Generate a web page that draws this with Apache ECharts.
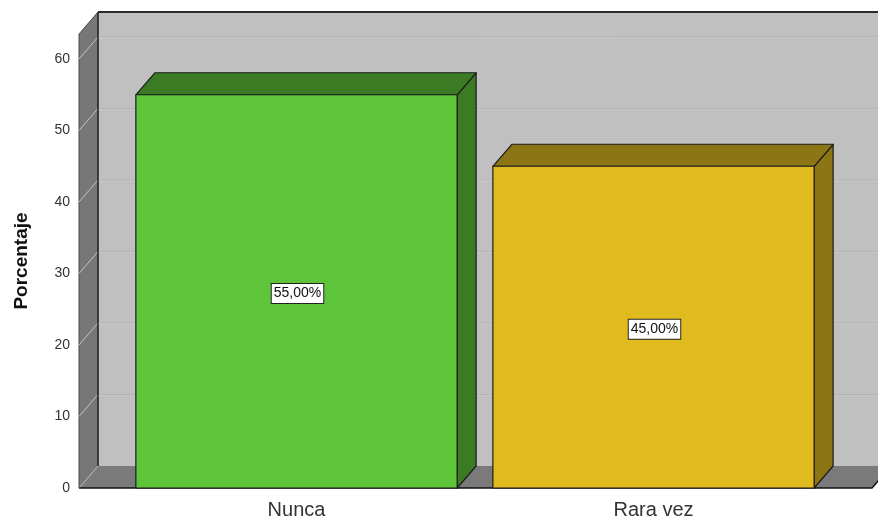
<!DOCTYPE html>
<html>
<head>
<meta charset="utf-8">
<script src="https://cdn.jsdelivr.net/npm/echarts@6/dist/echarts.min.js"></script>
<style>
  html, body { margin: 0; padding: 0; background: #ffffff; }
  #chart { width: 878px; height: 521px; }
</style>
</head>
<body>
<div id="chart"></div>
<script>
// Categories and percentages
var categories = ['Nunca', 'Rara vez'];
var percentages = [55, 45];
var valueLabels = ['55,00%', '45,00%'];
var yTicks = [0, 10, 20, 30, 40, 50, 60];

// Face colours per bar: front, top/side
var frontColors = ['#5ec43a', '#e0bb1e'];
var shadeColors = ['#3a7b23', '#8b7514'];

// 3D depth offset of the plot box (pixels)
var DX = 19, DY = -22;
var FONT = '"Liberation Sans", Arial, sans-serif';

var chart = echarts.init(document.getElementById('chart'), null, { renderer: 'canvas' });

function renderWalls(params, api) {
  var cs = params.coordSys;
  var left = cs.x - 39, right = cs.x + cs.width + 40;
  var top = cs.y, bottom = cs.y + cs.height;
  var children = [];
  // back wall
  children.push({ type: 'rect', shape: { x: left + DX, y: top + DY, width: right - left, height: bottom - top },
    style: { fill: '#c0c0c0', stroke: null } });
  // side wall
  children.push({ type: 'polygon', shape: { points: [[left, top], [left + DX, top + DY], [left + DX, bottom + DY], [left, bottom]] },
    style: { fill: '#777777', stroke: '#4a4a4a', lineWidth: 1 } });
  // floor
  children.push({ type: 'polygon', shape: { points: [[left, bottom], [left + DX, bottom + DY], [right + DX, bottom + DY], [right, bottom]] },
    style: { fill: '#7a7a7a', stroke: null } });
  // grid lines on back wall and side wall
  yTicks.forEach(function (v) {
    var y = api.coord([0, v])[1];
    if (v > 0) {
      children.push({ type: 'line', shape: { x1: left + DX, y1: y + DY, x2: right + DX, y2: y + DY },
        style: { stroke: '#b2b2b2', lineWidth: 1 } });
      children.push({ type: 'line', shape: { x1: left + DX, y1: y + DY + 1, x2: right + DX, y2: y + DY + 1 },
        style: { stroke: '#c9c9c9', lineWidth: 1 } });
    }
    children.push({ type: 'line', shape: { x1: left, y1: y, x2: left + DX, y2: y + DY },
      style: { stroke: '#c4c4c4', lineWidth: 1 } });
  });
  // edges
  children.push({ type: 'line', shape: { x1: left + DX, y1: top + DY, x2: right + DX + 20, y2: top + DY },
    style: { stroke: '#2a2a2a', lineWidth: 2 } });
  children.push({ type: 'line', shape: { x1: left + DX, y1: top + DY, x2: left + DX, y2: bottom + DY },
    style: { stroke: '#2a2a2a', lineWidth: 1.5 } });
  children.push({ type: 'polyline', shape: { points: [[left, bottom], [right, bottom], [right + DX, bottom + DY]] },
    style: { stroke: '#111111', lineWidth: 1.5, fill: null } });
  return { type: 'group', children: children };
}

function renderBar(params, api) {
  var idx = api.value(0);
  var val = api.value(1);
  var topPt = api.coord([idx, val]);
  var basePt = api.coord([idx, 0]);
  var w = api.size([1, 0])[0] * 0.9;
  var x0 = topPt[0] - w / 2, x1 = topPt[0] + w / 2;
  var yT = topPt[1], yB = basePt[1];
  var front = frontColors[params.dataIndex], shade = shadeColors[params.dataIndex];
  var edge = { stroke: '#1c1c1c', lineWidth: 1.2, lineJoin: 'round' };
  return {
    type: 'group',
    children: [
      { type: 'polygon', shape: { points: [[x1, yT], [x1 + DX, yT + DY], [x1 + DX, yB + DY], [x1, yB]] },
        style: Object.assign({ fill: shade }, edge) },
      { type: 'polygon', shape: { points: [[x0, yT], [x0 + DX, yT + DY], [x1 + DX, yT + DY], [x1, yT]] },
        style: Object.assign({ fill: shade }, edge) },
      { type: 'rect', shape: { x: x0, y: yT, width: w, height: yB - yT },
        style: Object.assign({ fill: front }, edge) },
      { type: 'text', x: topPt[0] + 1, y: (yT + yB) / 2 + 2,
        style: { text: valueLabels[params.dataIndex], x: 0, y: 0, align: 'center', verticalAlign: 'middle',
          fill: '#111111', font: '14px ' + FONT, backgroundColor: '#ffffff', borderColor: '#222222',
          borderWidth: 1, padding: [3, 2, 2, 2] } }
    ]
  };
}

var option = {
  backgroundColor: '#ffffff',
  animation: false,
  grid: { left: 118, right: 46, top: 34, bottom: 33 },
  xAxis: {
    type: 'category',
    data: categories,
    axisLine: { show: false },
    axisTick: { show: false },
    axisLabel: { color: '#333333', fontSize: 20, fontFamily: FONT, margin: 12 }
  },
  yAxis: {
    type: 'value',
    min: 0,
    max: 63.5,
    interval: 10,
    name: 'Porcentaje',
    nameLocation: 'middle',
    nameGap: 87,
    nameTextStyle: { color: '#111111', fontSize: 19, fontWeight: 'bold', fontFamily: FONT, padding: [0, 0, 0, 0] },
    axisLine: { show: false },
    axisTick: { show: false },
    splitLine: { show: false },
    axisLabel: { color: '#333333', fontSize: 14, fontFamily: FONT, margin: 48, showMaxLabel: false, padding: [5, 0, 0, 0] }
  },
  series: [
    {
      type: 'custom',
      renderItem: renderWalls,
      data: [[0, 0]],
      clip: false,
      silent: true,
      z: 1
    },
    {
      type: 'custom',
      renderItem: renderBar,
      data: percentages.map(function (v, i) { return [i, v]; }),
      clip: false,
      z: 2
    }
  ]
};

chart.setOption(option);
</script>
</body>
</html>
